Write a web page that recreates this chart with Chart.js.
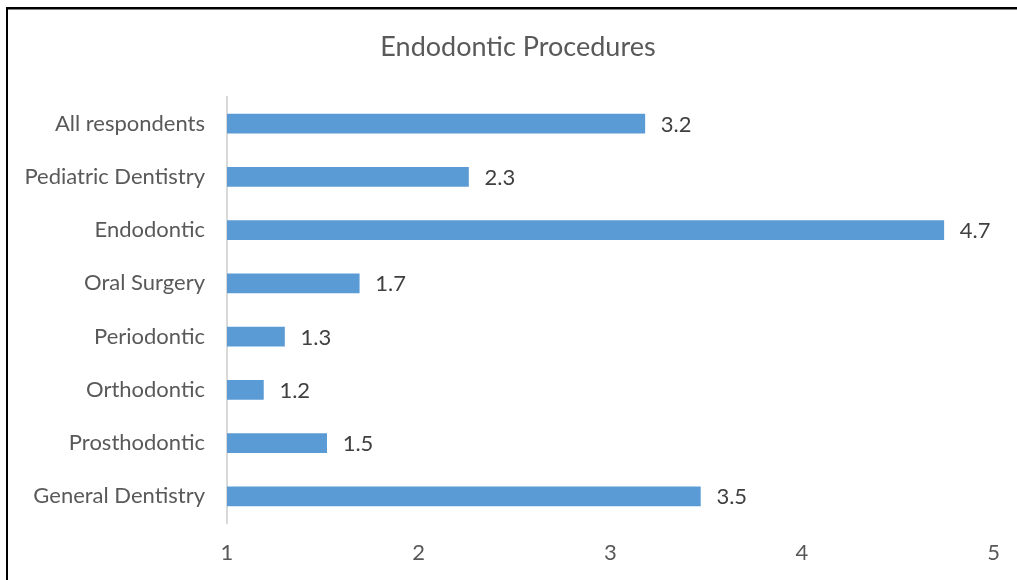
<!DOCTYPE html>
<html>
<head>
<meta charset="utf-8">
<script src="https://cdn.jsdelivr.net/npm/chart.js@4/dist/chart.umd.min.js"></script>
<style>
html,body{margin:0;padding:0;background:#fff;}
#wrap{position:absolute;left:0;top:0;width:1017px;height:580px;}
</style>
</head>
<body>
<div id="wrap"><canvas id="c" width="1017" height="580"></canvas></div>
<script>
const chartTitle = "Endodontic Procedures";
const categories = ["All respondents","Pediatric Dentistry","Endodontic","Oral Surgery","Periodontic","Orthodontic","Prosthodontic","General Dentistry"];
const values = [3.18, 2.26, 4.74, 1.69, 1.30, 1.19, 1.52, 3.47];
const xTicks = [1, 2, 3, 4, 5];

const FONT = "Lato, 'Open Sans', sans-serif";

const frame = {
  id: 'frame',
  beforeDraw(chart) {
    const ctx = chart.ctx;
    ctx.save();
    ctx.fillStyle = '#fff';
    ctx.fillRect(0, 0, chart.width, chart.height);
    ctx.fillStyle = '#000';
    ctx.fillRect(6, 7, 2, chart.height - 7);
    ctx.fillRect(6, 7, chart.width - 6, 2);
    ctx.fillStyle = '#808080';
    ctx.fillRect(8, 9, chart.width - 8, 1);
    ctx.restore();
  },
  afterDraw(chart) {
    const ctx = chart.ctx;
    ctx.save();
    ctx.font = "27px " + FONT;
    ctx.fillStyle = '#595959';
    ctx.textAlign = 'center';
    ctx.textBaseline = 'middle';
    ctx.fillText(chartTitle, 518, 47);
    ctx.restore();
  }
};

const valueLabels = {
  id: 'valueLabels',
  afterDatasetsDraw(chart) {
    const ctx = chart.ctx;
    const meta = chart.getDatasetMeta(0);
    ctx.save();
    ctx.font = "22px " + FONT;
    ctx.fillStyle = '#404040';
    ctx.textAlign = 'left';
    ctx.textBaseline = 'middle';
    meta.data.forEach((bar, i) => {
      ctx.fillText(values[i].toFixed(1), bar.x + 16, bar.y + 1);
    });
    ctx.restore();
  }
};

new Chart(document.getElementById('c'), {
  type: 'bar',
  data: {
    labels: categories,
    datasets: [{
      data: values,
      backgroundColor: '#5B9BD5',
      borderWidth: 0,
      barThickness: 19,
      base: 1
    }]
  },
  options: {
    indexAxis: 'y',
    responsive: false,
    animation: false,
    layout: { padding: { left: 10, right: 22, top: 97, bottom: 0 } },
    plugins: {
      legend: { display: false },
      tooltip: { enabled: false },
      title: { display: false }
    },
    scales: {
      x: {
        min: 1, max: 5,
        afterBuildTicks(axis) { axis.ticks = xTicks.map(v => ({ value: v })); },
        afterFit(axis) { axis.height = 57; },
        grid: { display: false, drawTicks: false },
        border: { display: false },
        ticks: {
          color: '#595959',
          font: { family: FONT, size: 22 },
          padding: 17,
          maxRotation: 0
        }
      },
      y: {
        afterFit(axis) { axis.width = 217; },
        grid: { display: false, drawTicks: false },
        border: { display: true, color: '#D9D9D9', width: 2 },
        ticks: {
          color: '#595959',
          font: { family: FONT, size: 22 },
          padding: 22
        }
      }
    }
  },
  plugins: [frame, valueLabels]
});
</script>
</body>
</html>
